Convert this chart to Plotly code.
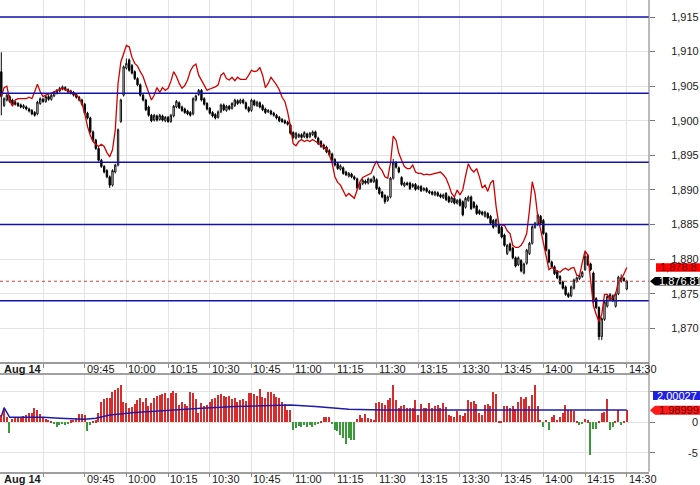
import plotly.graph_objects as go

W, H = 700, 485
FONT = "Arial, 'Liberation Sans', sans-serif"

# ---- data (one entry per minute bar; index 0 = 09:15, lunch break removed) ----
candle_open = [
 1907.1,1902.2,1903.0,1903.5,1903.0,1902.7,1902.5,1902.3,1901.9,1902.0,
 1901.7,1901.5,1901.2,1901.0,1902.5,1903.1,1902.8,1903.5,1903.1,1903.6,
 1904.0,1904.3,1904.6,1904.8,1904.5,1904.3,1904.1,1903.8,1903.4,1903.0,
 1902.4,1901.1,1900.4,1898.4,1897.2,1896.0,1894.3,1893.4,1892.8,1891.9,
 1890.7,1892.6,1893.6,1899.9,1903.7,1907.6,1908.8,1908.0,1907.1,1906.1,
 1905.2,1903.7,1903.0,1902.0,1900.8,1900.1,1900.7,1900.2,1900.7,1900.0,
 1900.5,1899.9,1900.7,1902.0,1902.6,1902.0,1901.7,1901.4,1901.2,1901.0,
 1903.0,1903.8,1904.4,1903.2,1902.5,1901.8,1901.2,1900.9,1900.5,1901.3,
 1902.3,1901.5,1902.1,1901.8,1902.2,1902.9,1902.6,1903.0,1902.6,1901.9,
 1901.5,1902.9,1902.2,1902.6,1902.2,1901.7,1901.3,1901.4,1901.1,1900.8,
 1900.5,1900.2,1900.0,1899.8,1899.4,1898.3,1897.5,1897.7,1898.0,1897.7,
 1898.1,1897.7,1898.0,1898.4,1897.5,1897.0,1896.5,1896.2,1895.7,1895.2,
 1894.4,1893.8,1893.0,1893.2,1892.6,1892.0,1892.3,1891.9,1891.6,1890.2,
 1890.9,1891.3,1891.0,1891.5,1891.2,1891.5,1890.3,1889.7,1889.2,1888.5,
 1889.0,1891.7,1894.0,1893.2,1891.8,1890.6,1891.0,1891.0,1890.5,1890.8,
 1890.2,1890.5,1890.0,1890.2,1889.8,1889.7,1889.3,1889.6,1889.3,1888.9,
 1889.5,1889.0,1888.3,1888.8,1888.1,1888.6,1888.3,1887.5,1888.5,1889.0,
 1888.2,1887.7,1887.0,1886.8,1886.2,1886.6,1886.2,1885.6,1884.8,1884.9,
 1884.6,1883.5,1880.8,1882.2,1881.6,1880.2,1879.2,1879.8,1878.0,1879.4,
 1880.8,1882.3,1884.6,1885.0,1886.2,1885.6,1883.7,1881.3,1879.6,1878.9,
 1878.2,1877.5,1876.7,1876.0,1875.0,1874.7,1875.8,1876.8,1877.2,1877.5,
 1878.5,1880.5,1879.3,1878.0,1874.3,1873.0,1868.8,1871.3,1873.2,1874.2,
 1874.7,1873.2,1875.0,1876.8,1877.2,1875.7]
candle_high = [
 1909.9,1903.4,1903.9,1903.7,1903.2,1902.9,1902.7,1902.5,1902.4,1902.2,
 1901.9,1901.7,1901.4,1902.9,1903.4,1903.3,1903.7,1903.7,1903.9,1904.3,
 1904.6,1904.9,1905.1,1905.0,1904.7,1904.5,1904.3,1904.0,1903.6,1903.2,
 1902.6,1901.3,1900.6,1898.6,1897.4,1896.2,1894.5,1893.6,1893.0,1892.1,
 1893.0,1893.8,1898.9,1903.2,1908.0,1909.0,1909.0,1908.2,1907.3,1906.3,
 1905.4,1903.9,1903.2,1902.2,1901.0,1901.0,1900.9,1901.0,1900.9,1900.7,
 1900.7,1901.0,1902.3,1903.0,1902.8,1902.2,1901.9,1901.6,1901.4,1903.4,
 1903.8,1904.6,1904.6,1903.4,1902.7,1902.0,1901.4,1901.1,1901.5,1902.5,
 1902.5,1902.3,1902.3,1902.7,1903.2,1903.1,1903.2,1903.2,1902.8,1902.1,
 1903.2,1903.1,1902.9,1902.8,1902.4,1901.9,1901.7,1901.6,1901.3,1901.0,
 1900.7,1900.4,1900.2,1900.0,1899.6,1898.5,1898.4,1898.2,1898.2,1898.5,
 1898.3,1898.4,1898.6,1898.6,1897.7,1897.2,1896.7,1896.4,1895.9,1895.4,
 1894.6,1894.0,1893.7,1893.4,1892.8,1892.6,1892.5,1892.1,1891.8,1891.1,
 1891.6,1891.5,1891.8,1891.7,1892.1,1891.7,1890.5,1889.9,1889.4,1889.2,
 1891.9,1894.5,1894.2,1893.4,1892.0,1891.2,1891.2,1891.2,1891.0,1891.0,
 1890.7,1890.7,1890.4,1890.4,1890.0,1889.9,1889.9,1889.8,1889.5,1889.5,
 1889.7,1889.2,1889.1,1889.0,1888.7,1888.8,1888.5,1889.0,1889.2,1889.2,
 1888.4,1887.9,1887.2,1887.0,1887.0,1886.8,1886.4,1885.8,1885.9,1885.1,
 1884.8,1883.7,1882.2,1882.4,1881.8,1880.4,1880.4,1880.0,1879.5,1881.5,
 1882.5,1884.9,1885.4,1886.6,1886.4,1885.8,1883.9,1881.5,1879.8,1879.1,
 1878.4,1877.7,1876.9,1876.2,1875.2,1876.2,1877.2,1877.5,1877.8,1878.3,
 1881.0,1880.7,1879.5,1878.2,1874.5,1873.2,1871.6,1874.0,1874.8,1875.1,
 1874.9,1875.2,1877.6,1877.8,1877.4,1877.0]
candle_low = [
 1900.8,1902.0,1902.8,1902.6,1902.3,1902.2,1902.0,1901.8,1901.7,1901.5,
 1901.2,1900.8,1900.6,1900.8,1902.3,1902.6,1902.6,1902.9,1902.9,1903.4,
 1903.8,1904.1,1904.4,1904.3,1904.0,1903.8,1903.5,1903.2,1902.8,1902.2,
 1900.9,1900.2,1898.2,1897.0,1895.8,1894.1,1893.2,1892.4,1891.7,1890.3,
 1890.5,1892.4,1893.4,1899.7,1903.5,1907.4,1907.1,1906.7,1905.9,1905.0,
 1903.5,1902.8,1901.4,1900.6,1899.8,1899.9,1899.9,1900.0,1899.9,1899.8,
 1899.7,1899.7,1900.5,1901.8,1901.7,1901.3,1901.0,1900.8,1900.6,1900.8,
 1902.8,1903.6,1902.8,1902.2,1901.5,1900.9,1900.5,1900.2,1900.3,1901.1,
 1901.4,1901.3,1901.5,1901.6,1902.0,1902.3,1902.4,1902.4,1901.6,1901.2,
 1901.3,1902.1,1902.0,1901.8,1901.4,1901.0,1901.1,1900.8,1900.6,1900.2,
 1899.8,1899.7,1899.5,1899.3,1898.0,1897.4,1897.3,1897.5,1897.4,1897.5,
 1897.4,1897.5,1897.8,1897.4,1896.5,1896.1,1895.8,1895.3,1894.9,1894.1,
 1893.4,1892.9,1892.8,1892.2,1892.0,1891.8,1891.7,1891.4,1890.1,1890.0,
 1890.7,1890.8,1890.8,1891.0,1891.0,1890.0,1889.3,1888.8,1888.0,1888.3,
 1888.8,1891.5,1893.1,1892.4,1890.6,1890.4,1890.6,1890.0,1890.3,1889.9,
 1890.0,1889.7,1889.8,1889.6,1889.4,1889.2,1889.1,1889.0,1888.8,1888.7,
 1888.4,1888.1,1888.1,1887.9,1887.9,1887.6,1886.2,1887.3,1888.3,1887.1,
 1887.3,1886.4,1886.4,1886.3,1886.0,1885.8,1885.0,1884.4,1884.6,1883.6,
 1883.0,1881.8,1880.6,1881.1,1880.0,1878.8,1879.0,1878.1,1877.8,1879.2,
 1880.6,1882.1,1884.4,1884.8,1885.0,1883.5,1881.1,1879.4,1878.7,1877.7,
 1877.1,1876.3,1875.6,1874.7,1874.4,1874.5,1875.6,1876.6,1877.0,1877.3,
 1878.3,1879.0,1878.3,1873.6,1872.8,1868.3,1868.3,1871.1,1873.0,1874.0,
 1873.8,1873.0,1874.8,1876.6,1876.7,1875.5]
candle_close = [
 1903.5,1903.2,1903.7,1902.8,1902.5,1902.4,1902.2,1902.0,1902.2,1901.7,
 1901.4,1901.0,1900.8,1902.7,1903.2,1902.8,1903.5,1903.1,1903.7,1904.1,
 1904.4,1904.7,1904.9,1904.5,1904.2,1904.0,1903.7,1903.4,1903.0,1902.4,
 1901.1,1900.4,1898.4,1897.2,1896.0,1894.3,1893.4,1892.6,1891.9,1890.7,
 1892.8,1893.6,1898.7,1903.0,1907.8,1908.3,1907.3,1906.9,1906.1,1905.2,
 1903.7,1903.0,1901.6,1900.8,1900.0,1900.8,1900.1,1900.8,1900.1,1900.5,
 1899.9,1900.8,1902.1,1902.8,1901.9,1901.5,1901.2,1901.0,1900.8,1903.2,
 1903.6,1904.4,1903.0,1902.4,1901.7,1901.1,1900.7,1900.4,1901.3,1902.3,
 1901.6,1902.1,1901.7,1902.5,1903.0,1902.5,1903.0,1902.6,1901.8,1901.4,
 1903.0,1902.3,1902.7,1902.0,1901.6,1901.2,1901.5,1901.0,1900.8,1900.4,
 1900.0,1899.9,1899.7,1899.5,1898.2,1897.6,1898.2,1898.0,1897.6,1898.3,
 1897.6,1898.2,1898.4,1897.6,1896.7,1896.3,1896.0,1895.5,1895.1,1894.3,
 1893.6,1893.1,1893.5,1892.4,1892.2,1892.4,1891.9,1891.6,1890.3,1890.9,
 1891.4,1891.0,1891.6,1891.2,1891.9,1890.2,1889.5,1889.0,1888.3,1889.0,
 1891.7,1893.9,1893.3,1892.6,1890.8,1891.0,1890.8,1890.2,1890.8,1890.1,
 1890.5,1889.9,1890.2,1889.8,1889.6,1889.4,1889.7,1889.2,1889.0,1889.3,
 1888.6,1888.3,1888.9,1888.1,1888.5,1887.8,1886.4,1888.8,1889.0,1887.3,
 1887.5,1886.6,1886.6,1886.5,1886.8,1886.0,1885.2,1884.6,1885.7,1883.8,
 1883.2,1882.0,1882.0,1881.3,1880.2,1879.0,1880.2,1878.3,1879.3,1881.3,
 1882.3,1884.7,1885.2,1886.4,1885.2,1883.7,1881.3,1879.6,1878.9,1877.9,
 1877.3,1876.5,1875.8,1874.9,1874.6,1876.0,1877.0,1877.3,1877.6,1878.1,
 1880.4,1879.2,1878.5,1873.8,1873.0,1868.8,1871.4,1873.8,1874.6,1874.9,
 1874.0,1875.0,1877.4,1877.3,1876.9,1876.81]
ref_line = [
 1903.5,1904.8,1905.0,1903.0,1902.1,1903.0,1903.2,1903.2,1903.2,1903.2,
 1903.4,1903.2,1904.2,1905.3,1904.2,1903.5,1903.7,1903.8,1904.0,1904.2,
 1904.4,1904.5,1904.7,1904.5,1904.4,1904.2,1904.0,1903.7,1903.2,1902.5,
 1901.1,1899.2,1897.9,1897.0,1896.6,1896.3,1896.6,1896.3,1895.4,1894.8,
 1895.8,1898.7,1905.4,1908.5,1909.7,1910.9,1910.7,1909.2,1908.3,1907.9,
 1907.1,1906.4,1905.2,1904.0,1903.0,1903.7,1904.8,1904.1,1904.8,1904.4,
 1904.7,1905.7,1907.1,1906.4,1905.4,1904.7,1905.1,1905.9,1907.2,1907.9,
 1908.2,1906.6,1905.9,1905.2,1904.4,1904.6,1904.7,1904.9,1905.2,1906.6,
 1906.9,1906.1,1905.9,1906.3,1905.8,1906.3,1906.0,1906.0,1906.0,1906.6,
 1907.3,1907.1,1907.2,1907.7,1906.6,1904.8,1905.4,1906.3,1905.8,1905.2,
 1904.5,1903.4,1902.8,1901.3,1899.2,1896.7,1896.4,1897.0,1897.3,1897.0,
 1897.2,1897.0,1897.3,1897.0,1896.7,1896.5,1896.3,1896.0,1895.1,1893.9,
 1891.9,1891.1,1890.7,1889.8,1889.1,1889.5,1889.1,1888.8,1890.0,1891.2,
 1891.8,1892.0,1892.2,1892.4,1893.4,1894.2,1893.3,1892.8,1891.9,1891.7,
 1893.9,1897.8,1897.2,1895.3,1894.3,1893.4,1893.1,1893.1,1893.6,1892.6,
 1892.4,1892.4,1892.2,1892.3,1892.2,1892.3,1892.4,1892.6,1892.6,1892.2,
 1891.7,1890.7,1889.5,1889.0,1890.0,1889.3,1890.0,1892.0,1893.8,1893.0,
 1892.6,1893.1,1891.9,1890.3,1890.7,1889.8,1891.0,1891.4,1887.6,1885.0,
 1885.0,1884.9,1884.1,1883.7,1882.0,1881.7,1881.7,1882.0,1882.7,1883.7,
 1887.1,1891.2,1889.5,1886.1,1884.3,1882.3,1880.4,1878.5,1878.8,1878.5,
 1878.3,1878.1,1878.5,1878.7,1878.4,1878.7,1878.8,1877.7,1877.6,1879.5,
 1881.2,1880.6,1876.5,1873.3,1872.0,1871.0,1872.0,1874.9,1874.9,1874.2,
 1874.4,1875.0,1876.8,1877.1,1877.9,1878.8]
hist_vals = [
 1.2,2.0,0.9,-1.8,0.5,0.8,0.8,0.9,1.0,1.2,
 1.5,1.6,2.4,2.0,1.3,0.8,0.6,0.4,0.2,-0.2,
 -0.7,-0.5,-0.3,-0.4,-0.3,0.3,0.4,0.5,1.4,1.3,
 1.2,-1.5,-0.4,0.1,0.3,1.6,3.4,3.8,4.0,4.0,
 4.9,5.3,5.6,6.1,3.4,3.1,2.3,2.5,3.0,3.6,
 4.0,3.4,4.0,2.6,3.1,3.9,4.3,4.5,4.6,4.8,
 4.0,4.8,5.1,4.8,2.9,3.4,3.0,2.6,4.9,4.8,
 3.8,1.5,3.1,2.6,2.9,3.4,3.8,4.0,4.4,4.7,
 4.3,4.1,4.3,3.8,4.0,3.4,3.6,3.8,3.5,4.8,
 4.8,4.6,4.3,5.4,4.2,4.0,4.9,4.9,4.6,4.2,
 4.0,3.4,3.0,2.0,2.0,-1.3,-1.0,-0.6,-0.8,-0.5,
 -0.8,-0.5,-0.8,-0.5,-0.3,0.1,0.9,0.8,0.9,-0.2,
 -1.2,-1.5,-2.1,-2.5,-3.6,-2.6,-2.9,-2.9,0.5,1.2,
 0.7,1.4,0.7,0.5,0.4,3.2,3.4,3.1,2.8,3.6,
 4.0,6.1,3.6,2.3,2.6,2.8,2.3,2.3,2.3,3.7,
 1.2,3.0,2.3,2.3,3.1,2.3,2.7,2.8,2.3,3.2,
 2.5,1.2,1.0,0.9,1.8,1.2,1.0,1.5,3.6,3.4,
 3.5,3.0,1.6,1.2,2.8,3.0,2.6,5.0,4.6,0.1,
 0.1,2.6,2.7,2.3,2.6,2.1,3.4,4.1,3.8,4.2,
 2.6,4.4,6.1,2.6,0.4,-0.7,0.4,-1.3,0.8,1.2,
 0.4,0.9,1.5,2.8,2.0,2.0,1.8,0.1,-0.4,-0.3,
 0.5,0.3,-5.4,-1.1,-1.1,0.1,1.5,1.7,3.8,-1.3,
 -0.7,0.1,2.0,-0.5,0.2,1.98999]
sig_idx = [0, 1, 3, 7, 12, 15, 21, 30, 34, 39, 48, 60, 72, 84, 96, 104,
           113, 125, 137, 161, 185, 197, 209, 225]
sig_vals = [0.93, 2.4, 0.82, 0.82, 0.93, 0.82, 0.66, 0.49, 0.66, 1.2, 1.6,
            2.0, 2.3, 2.57, 2.73, 2.84, 2.57, 2.13, 2.02, 2.02, 2.13, 2.13,
            2.02, 2.00027]
levels = [1915, 1904, 1894, 1885, 1874]
tick_idx = [15, 30, 45, 60, 75, 90, 105, 120, 135, 150, 165, 180, 195, 210, 225]
tick_lbl = ["", "09:45", "10:00", "10:15", "10:30", "10:45", "11:00", "11:15",
            "11:30", "13:15", "13:30", "13:45", "14:00", "14:15", "14:30"]
date_lbl = "Aug 14"
price_ticks = [1870, 1875, 1880, 1885, 1890, 1895, 1900, 1905, 1910, 1915]
osc_ticks = [0, -5]

idx = list(range(len(candle_close)))

# ---- geometry (pixels -> paper) ----
AX_X = 649 / W
main_dom = [1 - 362 / H, 1]
low_dom = [1 - 471.7 / H, 1 - 375 / H]
XR = [-0.47, 233.0]
GRID = "#e3e3e3"

fig = go.Figure()
fig.add_trace(go.Candlestick(
    x=idx, open=candle_open, high=candle_high, low=candle_low, close=candle_close,
    increasing=dict(line=dict(color="#111111", width=1), fillcolor="#ffffff"),
    decreasing=dict(line=dict(color="#000000", width=1), fillcolor="#000000"),
    whiskerwidth=0, hoverinfo="skip", xaxis="x", yaxis="y"))
fig.add_trace(go.Scatter(x=idx, y=ref_line, mode="lines",
                         line=dict(color="#d00000", width=1.3),
                         hoverinfo="skip", xaxis="x", yaxis="y"))
fig.add_trace(go.Bar(x=idx, y=hist_vals, width=0.5,
                     marker=dict(color=["#d92b2b" if v >= 0 else "#3a9a3a" for v in hist_vals],
                                 line=dict(width=0)),
                     hoverinfo="skip", xaxis="x2", yaxis="y2"))
fig.add_trace(go.Scatter(x=sig_idx, y=sig_vals, mode="lines",
                         line=dict(color="#1c1ca8", width=1.5),
                         hoverinfo="skip", xaxis="x2", yaxis="y2"))

tickfont = dict(family=FONT, size=11, color="#222222")
fig.update_layout(
    width=W, height=H, margin=dict(l=0, r=0, t=0, b=0),
    paper_bgcolor="white", plot_bgcolor="white", showlegend=False,
    font=dict(family=FONT, size=11, color="#222222"),
    xaxis=dict(domain=[0, AX_X], range=XR, anchor="y", tickvals=tick_idx,
               showticklabels=False, ticks="outside", ticklen=4, tickcolor="#888888",
               showgrid=True, gridcolor=GRID, showline=True, linecolor="#9a9a9a",
               linewidth=2, zeroline=False, rangeslider=dict(visible=False),
               fixedrange=True),
    yaxis=dict(domain=main_dom, range=[1865.14, 1917.46], side="right", anchor="x",
               tickvals=price_ticks, tickformat=",d", ticks="outside", ticklen=5,
               tickcolor="#777777", showgrid=True, gridcolor=GRID, zeroline=False,
               showline=False, tickfont=tickfont, ticklabelstandoff=14, fixedrange=True),
    xaxis2=dict(domain=[0, AX_X], range=XR, anchor="y2", tickvals=tick_idx,
                showticklabels=False, ticks="outside", ticklen=4, tickcolor="#888888",
                showgrid=True, gridcolor=GRID, showline=True, mirror=True,
                linecolor="#a0a0a0", linewidth=1.5, zeroline=False, fixedrange=True),
    yaxis2=dict(domain=low_dom, range=[-8.1, 7.75], side="right", anchor="x2",
                tickvals=[5, 0, -5], showticklabels=False, ticks="outside", ticklen=5,
                tickcolor="#777777", showgrid=True, gridcolor=GRID, zeroline=False,
                showline=False, fixedrange=True),
    bargap=0,
)

shapes = []
for lv in levels:
    shapes.append(dict(type="line", xref="paper", x0=0, x1=AX_X, yref="y", y0=lv, y1=lv,
                       line=dict(color="#1212b0", width=1.5), layer="above"))
last_c = candle_close[-1]
shapes.append(dict(type="line", xref="paper", x0=0, x1=AX_X, yref="y", y0=last_c, y1=last_c,
                   line=dict(color="#d04040", width=1, dash="dot"), layer="above"))
# right axis line across both panels
shapes.append(dict(type="line", xref="paper", x0=AX_X, x1=AX_X, yref="paper",
                   y0=low_dom[0], y1=1, line=dict(color="#777777", width=1), layer="above"))
# price marker boxes
last_r = ref_line[-1]
hh = 0.63
shapes.append(dict(type="rect", xref="paper", x0=656 / W, x1=1.0, yref="y",
                   y0=last_r - hh, y1=last_r + hh, fillcolor="#ff0000",
                   line=dict(width=0), layer="above"))
p0, p1 = 650 / W, 655 / W
shapes.append(dict(type="path", xref="paper", yref="y",
                   path=f"M {p0},{last_c} L {p1},{last_c + hh} L 1.0,{last_c + hh} "
                        f"L 1.0,{last_c - hh} L {p1},{last_c - hh} Z",
                   fillcolor="#000000", line=dict(width=0), layer="above"))
last_s = sig_vals[-1]
last_h = hist_vals[-1]
shapes.append(dict(type="rect", xref="paper", x0=653 / W, x1=1.0, yref="paper",
                   y0=1 - 400 / H, y1=1 - 391 / H, fillcolor="#2020e0",
                   line=dict(width=0), layer="above"))
hh2 = 0.74
shapes.append(dict(type="path", xref="paper", yref="y2",
                   path=f"M {p0},{last_h} L {p1},{last_h + hh2} L 1.0,{last_h + hh2} "
                        f"L 1.0,{last_h - hh2} L {p1},{last_h - hh2} Z",
                   fillcolor="#ff1a1a", line=dict(width=0), layer="above"))

ann = []
for band_y in (1 - 368.6 / H, 1 - 478.5 / H):
    for t, lb in zip(tick_idx, tick_lbl):
        if lb:
            ann.append(dict(x=t, xref="x", y=band_y, yref="paper", text=lb,
                            xanchor="left", yanchor="middle", xshift=0, showarrow=False,
                            font=dict(family=FONT, size=11, color="#1a1a1a")))
    ann.append(dict(x=2 / W, xref="paper", y=band_y, yref="paper", text=f"<b>{date_lbl}</b>",
                    xanchor="left", yanchor="middle", showarrow=False,
                    font=dict(family=FONT, size=11, color="#1a1a1a")))
for v in osc_ticks:
    ann.append(dict(x=1.0, xref="paper", y=v, yref="y2", text=f"{v:d}",
                    xanchor="right", yanchor="middle", showarrow=False, xshift=0,
                    font=dict(family=FONT, size=11, color="#222222")))
ann.append(dict(x=658 / W, xref="paper", y=last_r, yref="y", text=f"{last_r:,.1f}",
                xanchor="left", yanchor="middle", showarrow=False,
                font=dict(family=FONT, size=11, color="#6a0000")))
ann.append(dict(x=657 / W, xref="paper", y=last_c, yref="y", text=f"{last_c:,.2f}",
                xanchor="left", yanchor="middle", showarrow=False,
                font=dict(family=FONT, size=11, color="#ffffff")))
ann.append(dict(x=655 / W, xref="paper", y=1 - 395.5 / H, yref="paper", text=f"{last_s:.5f}",
                xanchor="left", yanchor="middle", showarrow=False,
                font=dict(family=FONT, size=11, color="#ffffff")))
ann.append(dict(x=657 / W, xref="paper", y=last_h, yref="y2", text=f"{last_h:.5f}",
                xanchor="left", yanchor="middle", showarrow=False,
                font=dict(family=FONT, size=11, color="#6a0000")))

fig.update_layout(shapes=shapes, annotations=ann)
fig.write_html("out.html", config={"displayModeBar": False},
               post_script="document.body.style.margin='0px';document.body.style.overflow='hidden';")
